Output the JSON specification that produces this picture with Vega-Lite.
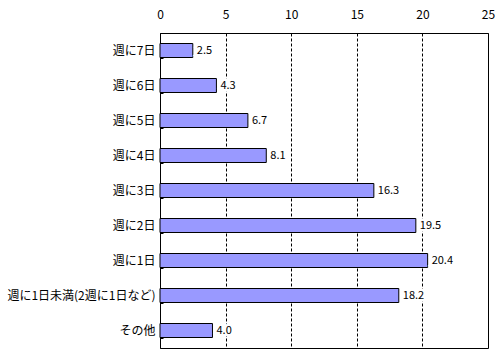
{
  "$schema": "https://vega.github.io/schema/vega-lite/v6.json",
  "width": 328,
  "height": 315,
  "autosize": {"type": "none"},
  "padding": {"left": 160, "top": 33, "right": 12, "bottom": 5},
  "background": "white",
  "config": {
    "font": "Noto Sans CJK JP",
    "view": {"stroke": "black", "strokeWidth": 1}
  },
  "data": {
    "values": [
      {"cat": "週に7日", "v": 2.5},
      {"cat": "週に6日", "v": 4.3},
      {"cat": "週に5日", "v": 6.7},
      {"cat": "週に4日", "v": 8.1},
      {"cat": "週に3日", "v": 16.3},
      {"cat": "週に2日", "v": 19.5},
      {"cat": "週に1日", "v": 20.4},
      {"cat": "週に1日未満(2週に1日など)", "v": 18.2},
      {"cat": "その他", "v": 4.0}
    ]
  },
  "encoding": {
    "y": {
      "field": "cat",
      "type": "nominal",
      "sort": null,
      "scale": {"paddingInner": 0.6, "paddingOuter": 0.3},
      "axis": {
        "title": null,
        "domainColor": "black",
        "tickColor": "black",
        "tickSize": -3,
        "tickBand": "extent",
        "labelFontSize": 12,
        "labelColor": "black",
        "labelPadding": 8,
        "labelFont": "Noto Sans CJK JP"
      }
    }
  },
  "layer": [
    {
      "mark": {"type": "bar", "color": "#9999FF", "stroke": "black", "strokeWidth": 1},
      "encoding": {
        "x": {
          "field": "v",
          "type": "quantitative",
          "scale": {"domain": [0, 25], "nice": false},
          "axis": {
            "orient": "top",
            "title": null,
            "values": [0, 5, 10, 15, 20, 25],
            "ticks": false,
            "domain": false,
            "labelFontSize": 12,
            "labelColor": "black",
            "labelPadding": 12,
            "labelFont": "Noto Sans CJK JP",
            "grid": true,
            "gridColor": "black",
            "gridDash": [3, 2],
            "gridOpacity": 1,
            "labelFlush": false
          }
        }
      }
    },
    {
      "mark": {"type": "text", "align": "left", "dx": 4, "fontSize": 11, "color": "white", "stroke": "white", "strokeWidth": 5},
      "encoding": {
        "x": {"field": "v", "type": "quantitative"},
        "text": {"field": "v", "type": "quantitative", "format": ".1f"}
      }
    },
    {
      "mark": {"type": "text", "align": "left", "dx": 4, "fontSize": 11, "color": "black"},
      "encoding": {
        "x": {"field": "v", "type": "quantitative"},
        "text": {"field": "v", "type": "quantitative", "format": ".1f"}
      }
    }
  ]
}
